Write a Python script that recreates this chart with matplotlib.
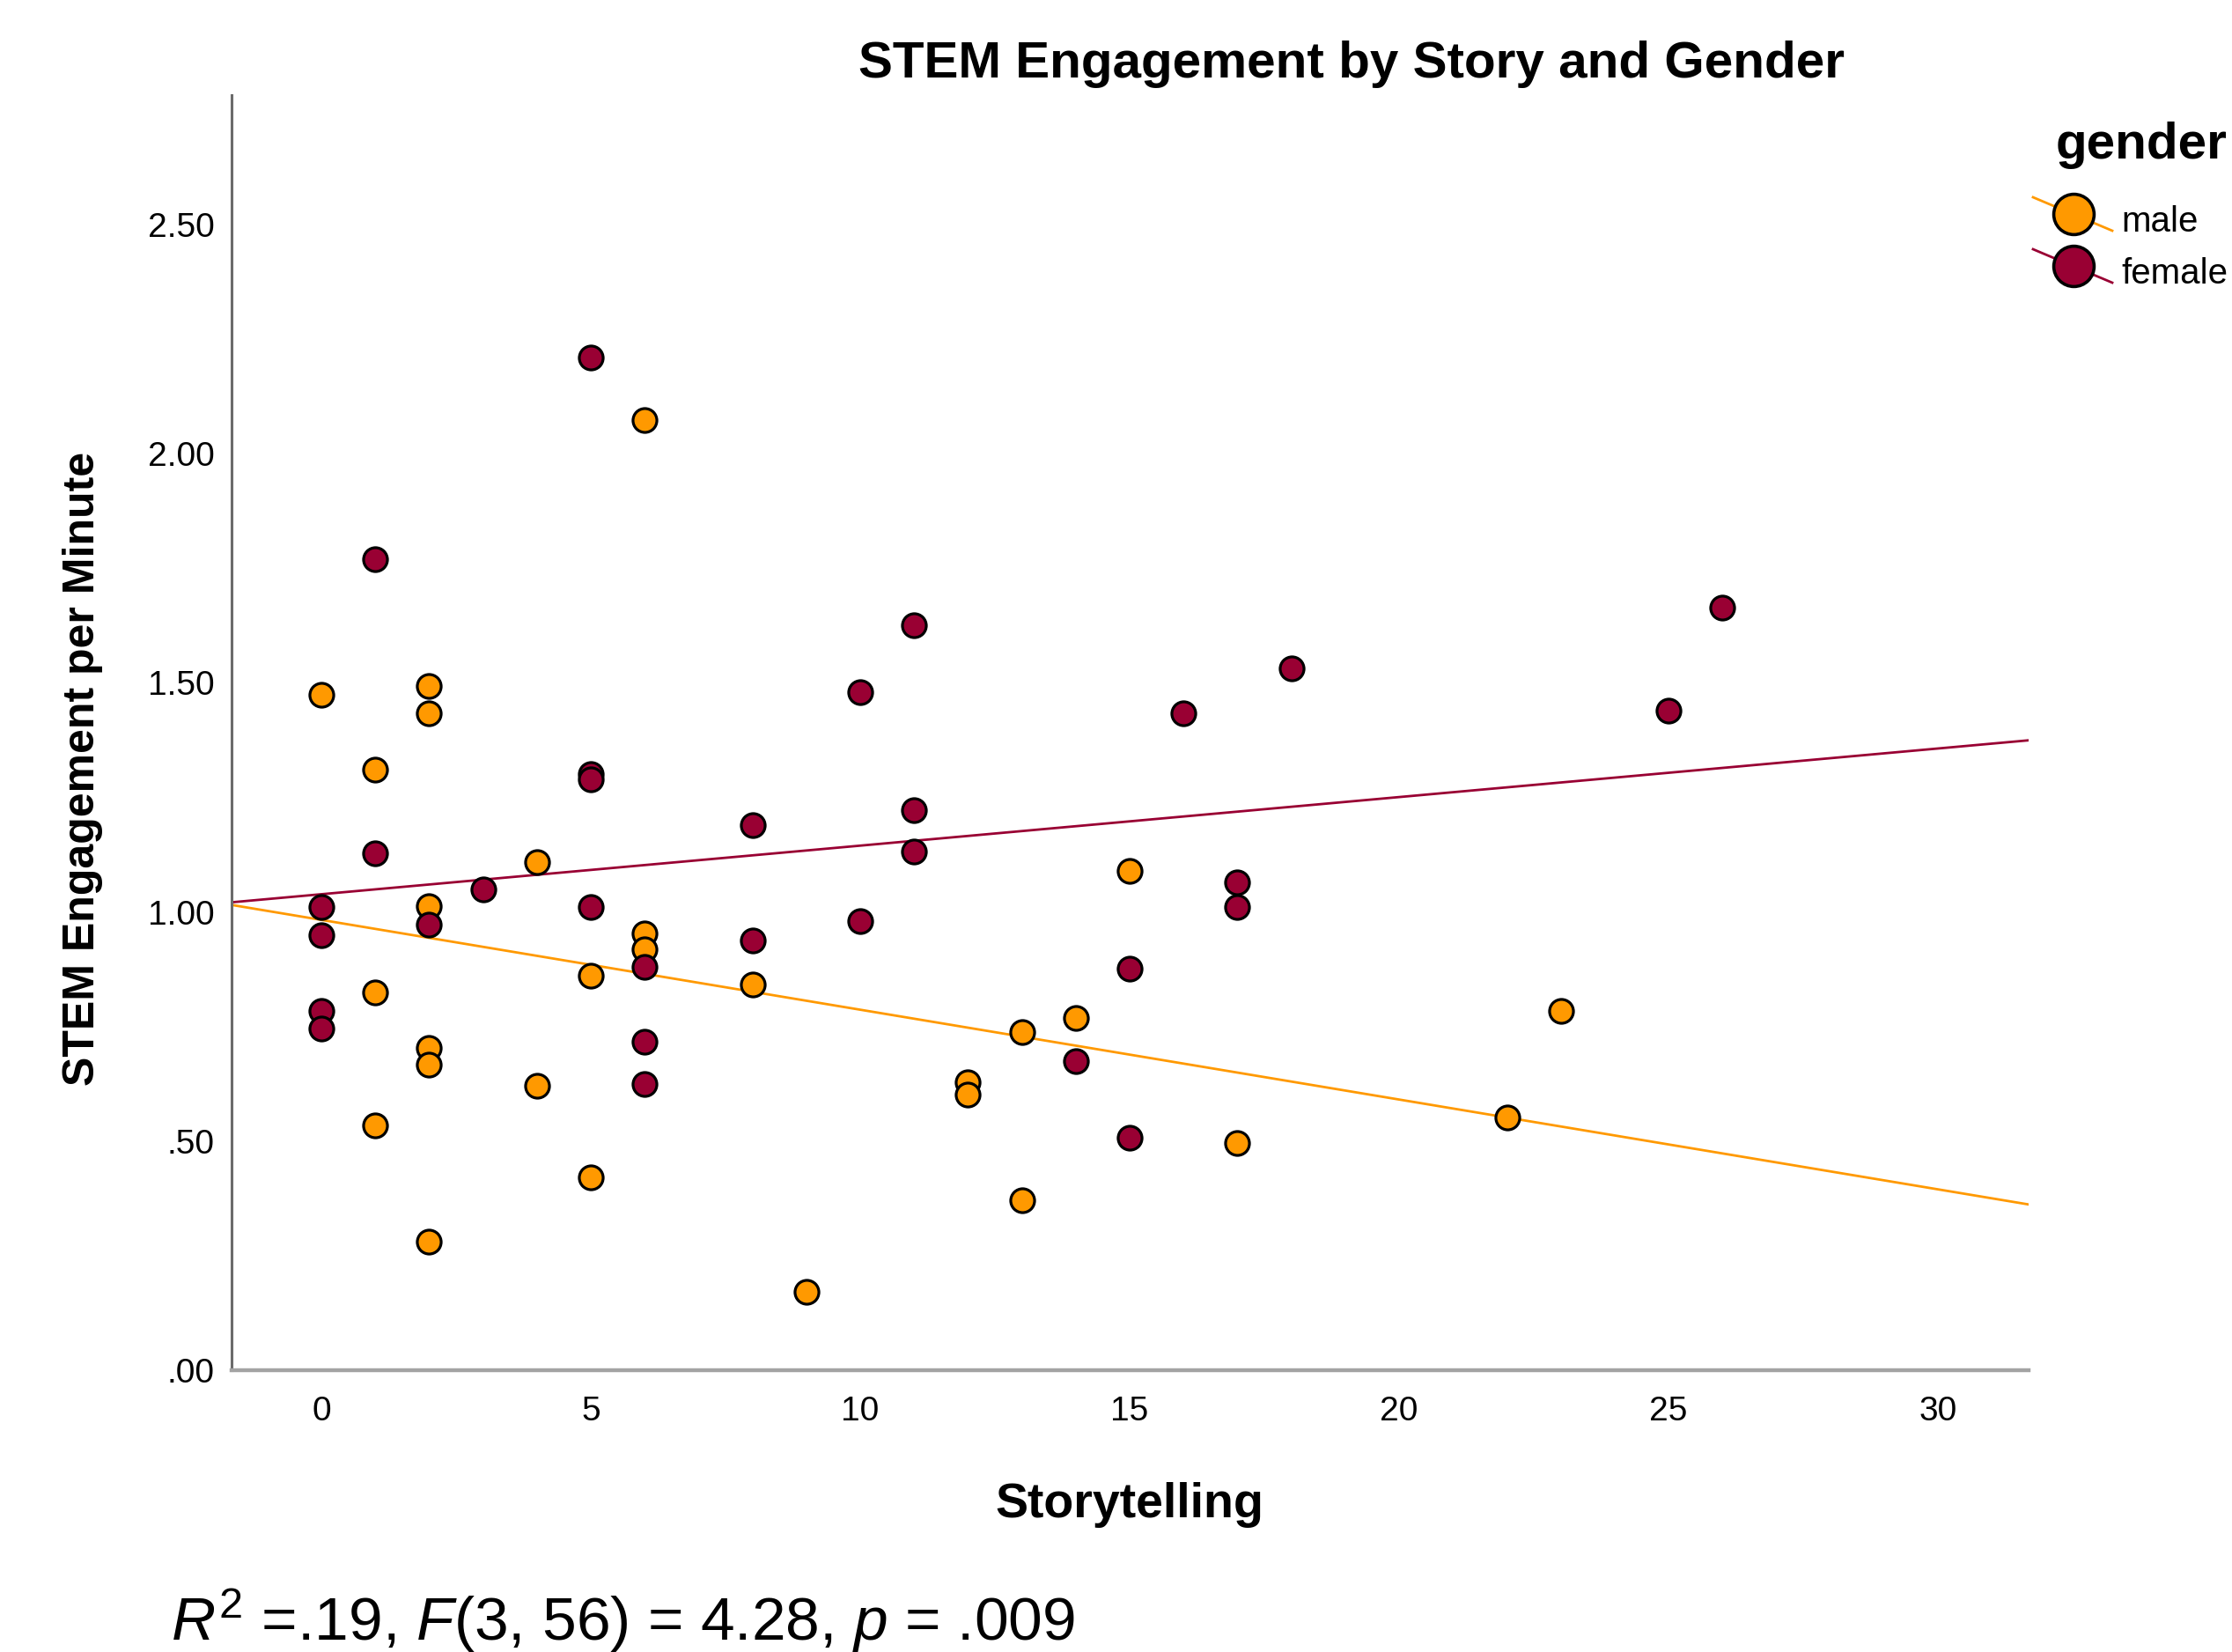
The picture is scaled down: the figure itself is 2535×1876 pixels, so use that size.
"""STEM engagement per minute vs storytelling, split by gender (SPSS-style scatter)."""

import matplotlib
matplotlib.use("Agg")
import matplotlib.pyplot as plt
from matplotlib import font_manager

# ---- data ------------------------------------------------------------------
female_x = [5, 1, 11, 26, 18, 10, 25, 16, 5, 5, 11, 8, 1, 11, 3, 17,
            0, 5, 17, 10, 2, 0, 8, 6, 15, 0, 0, 6, 14, 6, 15]
female_y = [2.210, 1.770, 1.626, 1.663, 1.532, 1.480, 1.440, 1.433, 1.301, 1.290,
            1.221, 1.189, 1.128, 1.131, 1.049, 1.064, 1.010, 1.010, 1.010, 0.979,
            0.972, 0.950, 0.937, 0.880, 0.876, 0.783, 0.746, 0.717, 0.675, 0.624,
            0.508]

male_x = [6, 0, 2, 2, 1, 4, 15, 2, 6, 6, 5, 8, 1, 23, 14, 13, 2, 2, 4, 12,
          12, 22, 1, 17, 5, 13, 2, 9]
male_y = [2.074, 1.474, 1.493, 1.433, 1.310, 1.108, 1.090, 1.012, 0.952, 0.919,
          0.860, 0.841, 0.825, 0.783, 0.768, 0.738, 0.703, 0.666, 0.620, 0.628,
          0.601, 0.552, 0.534, 0.496, 0.421, 0.371, 0.281, 0.171]

# fit lines as drawn in the reference (intercept, slope)
female_fit = (1.0385, 0.0106)
male_fit = (0.9825, -0.0196)

x_ticks = [0, 5, 10, 15, 20, 25, 30]
y_ticks = [0.0, 0.5, 1.0, 1.5, 2.0, 2.5]
y_tick_labels = [".00", ".50", "1.00", "1.50", "2.00", "2.50"]
legend_labels = ["male", "female"]

title = "STEM Engagement by Story and Gender"
x_label = "Storytelling"
y_label = "STEM Engagement per Minute"
stats_text = r"$R^{2}$ =.19, $F$(3, 56) = 4.28, $p$ = .009"

# ---- style -----------------------------------------------------------------
names = {f.name for f in font_manager.fontManager.ttflist}
NARROW = "Liberation Sans Narrow" if "Liberation Sans Narrow" in names else "Liberation Sans"

plt.rcParams.update({
    "font.family": ["Liberation Sans", "DejaVu Sans"],
    "mathtext.fontset": "custom",
    "mathtext.rm": NARROW,
    "mathtext.it": f"{NARROW}:italic",
    "figure.facecolor": "white",
    "axes.facecolor": "white",
})

C_MALE = "#FF9900"
C_FEMALE = "#990033"

fig = plt.figure(figsize=(25.35, 18.76), dpi=100)
ax = fig.add_axes([0.1037, 0.1706, 0.8052, 0.7718])

# male first, female drawn on top
for xs, ys, fit, col in [(male_x, male_y, male_fit, C_MALE),
                         (female_x, female_y, female_fit, C_FEMALE)]:
    ax.axline((0, fit[0]), slope=fit[1], color=col, linewidth=2.0, zorder=2)
    ax.plot(xs, ys, "o", markersize=19.5, markerfacecolor=col,
            markeredgecolor="black", markeredgewidth=2.3, zorder=3)

ax.set_xlim(-1.667, 31.68)
ax.set_ylim(0, 2.782)
ax.set_xticks(x_ticks)
ax.set_xticklabels([str(t) for t in x_ticks], fontfamily=NARROW, fontsize=28)
ax.set_yticks(y_ticks)
ax.set_yticklabels(y_tick_labels, fontfamily=NARROW, fontsize=28)
ax.tick_params(axis="x", length=0, pad=21)
ax.tick_params(axis="y", length=0, pad=14)

for side in ["top", "right"]:
    ax.spines[side].set_visible(False)
ax.spines["left"].set_color("#6b6b6b")
ax.spines["left"].set_linewidth(2.2)
ax.spines["bottom"].set_color("#a3a3a3")
ax.spines["bottom"].set_linewidth(3.2)

# ---- overlay in pixel coordinates for titles and legend ----------------------
ov = fig.add_axes([0, 0, 1, 1], zorder=5)
ov.set_xlim(0, 2535)
ov.set_ylim(1876, 0)
ov.axis("off")
ov.patch.set_alpha(0)

ov.text(1535, 88, title, ha="center", va="baseline", fontsize=42, fontweight="bold")
ov.text(1283, 1723, x_label, ha="center", va="baseline", fontsize=40, fontweight="bold")
ov.text(107, 873, y_label, ha="center", va="baseline", rotation=90,
        rotation_mode="anchor", fontsize=36, fontweight="bold")
ov.text(194, 1863, stats_text, ha="left", va="baseline", fontsize=50, fontfamily=NARROW)

# legend
ov.text(2335, 180, "gender", ha="left", va="baseline", fontsize=42, fontweight="bold")
for i, (lab, col) in enumerate(zip(legend_labels, [C_MALE, C_FEMALE])):
    cy = 243 + i * 59
    ov.plot([2309, 2399], [cy - 19, cy + 19], color=col, linewidth=2.0)
    ov.plot([2355], [cy], "o", markersize=33, markerfacecolor=col,
            markeredgecolor="black", markeredgewidth=2.6)
    ov.text(2409, cy + 20, lab, ha="left", va="baseline", fontsize=29)

fig.savefig("out.png", dpi=100)
plt.close(fig)
